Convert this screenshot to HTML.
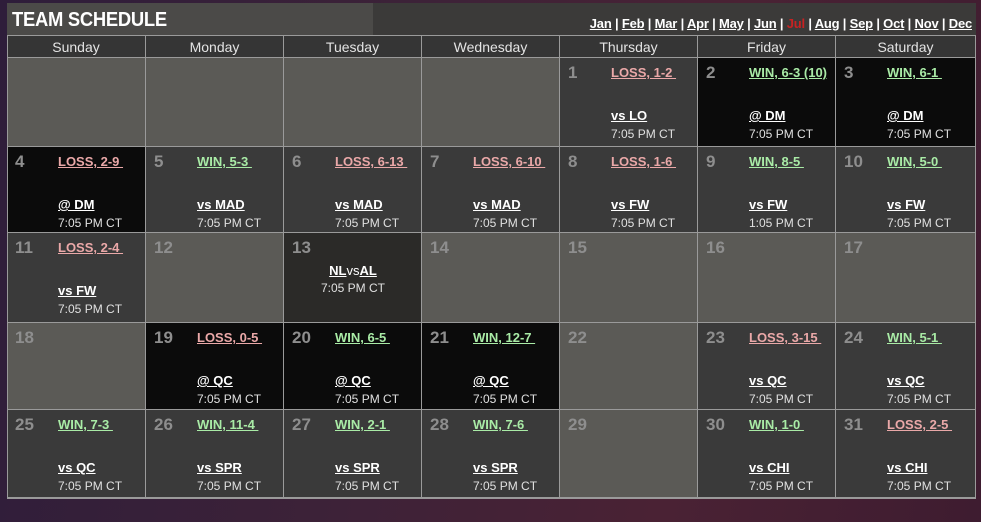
<!DOCTYPE html>
<html><head><meta charset="utf-8"><style>
*{margin:0;padding:0;box-sizing:border-box}
body{width:981px;height:522px;overflow:hidden;position:relative;font-family:"Liberation Sans",sans-serif;
background:linear-gradient(100deg,#2e1d3a 0%,#3d2238 40%,#4a2234 70%,#3e1c30 100%);}
.tb1{position:absolute;left:7px;top:3px;width:366px;height:33px;background:#4b4a48}
.tb2{position:absolute;left:373px;top:3px;width:603px;height:33px;background:#3b3a39}
.title{position:absolute;left:12px;top:9px;color:#fff;font-size:20px;font-weight:bold;letter-spacing:-0.3px;transform:scaleX(0.92);transform-origin:left}
.months{position:absolute;right:9px;top:16px;color:#fff;font-size:13px;font-weight:bold;letter-spacing:-0.2px}
.months u{text-decoration:underline}
.months .cur{color:#c62222;text-decoration:none}
.hdr{position:absolute;top:36px;height:22px;background:#353535;color:#e4e4e4;font-size:14px;text-align:center;line-height:22px;border-right:1px solid #9a9a9a;border-bottom:1px solid #9a9a9a}
.c{position:absolute;border-right:1px solid #9a9a9a;border-bottom:1px solid #9a9a9a}
.e{background:#5b5a56}.h{background:#3a3a3a}.a{background:#0b0b0b}.s{background:#2b2a28}
.n{position:absolute;left:8px;top:5px;font-size:17px;font-weight:bold;color:#8e8e8e}
.r{position:absolute;left:51px;top:7px;font-size:13px;font-weight:bold;text-decoration:underline;white-space:pre}
.L{color:#eaa8a8}.W{color:#a9eba6}
.o{position:absolute;left:51px;top:50px;font-size:13px;font-weight:bold;color:#fff;text-decoration:underline}
.t{position:absolute;left:51px;top:69px;font-size:12px;color:#e0e0e0}
.grid{position:absolute;left:7px;top:35px;width:969px;height:464px;border:1px solid #9a9a9a;pointer-events:none}
</style></head><body>
<div class="tb1"></div><div class="tb2"></div>
<div class="title">TEAM SCHEDULE</div>
<div class="months"><u>Jan</u> | <u>Feb</u> | <u>Mar</u> | <u>Apr</u> | <u>May</u> | <u>Jun</u> | <span class="cur">Jul</span> | <u>Aug</u> | <u>Sep</u> | <u>Oct</u> | <u>Nov</u> | <u>Dec</u></div>

<div class="hdr" style="left:7px;width:139px">Sunday</div>
<div class="hdr" style="left:146px;width:138px">Monday</div>
<div class="hdr" style="left:284px;width:138px">Tuesday</div>
<div class="hdr" style="left:422px;width:138px">Wednesday</div>
<div class="hdr" style="left:560px;width:138px">Thursday</div>
<div class="hdr" style="left:698px;width:138px">Friday</div>
<div class="hdr" style="left:836px;width:140px">Saturday</div>

<div class="c e" style="left:7px;top:58px;width:139px;height:89px"></div>
<div class="c e" style="left:146px;top:58px;width:138px;height:89px"></div>
<div class="c e" style="left:284px;top:58px;width:138px;height:89px"></div>
<div class="c e" style="left:422px;top:58px;width:138px;height:89px"></div>
<div class="c h" style="left:560px;top:58px;width:138px;height:89px"><div class="n">1</div><div class="r L">LOSS, 1-2 </div><div class="o">vs LO</div><div class="t">7:05 PM CT</div></div>
<div class="c a" style="left:698px;top:58px;width:138px;height:89px"><div class="n">2</div><div class="r W">WIN, 6-3 (10)</div><div class="o">@ DM</div><div class="t">7:05 PM CT</div></div>
<div class="c a" style="left:836px;top:58px;width:140px;height:89px"><div class="n">3</div><div class="r W">WIN, 6-1 </div><div class="o">@ DM</div><div class="t">7:05 PM CT</div></div>

<div class="c a" style="left:7px;top:147px;width:139px;height:86px"><div class="n">4</div><div class="r L">LOSS, 2-9 </div><div class="o">@ DM</div><div class="t">7:05 PM CT</div></div>
<div class="c h" style="left:146px;top:147px;width:138px;height:86px"><div class="n">5</div><div class="r W">WIN, 5-3 </div><div class="o">vs MAD</div><div class="t">7:05 PM CT</div></div>
<div class="c h" style="left:284px;top:147px;width:138px;height:86px"><div class="n">6</div><div class="r L">LOSS, 6-13 </div><div class="o">vs MAD</div><div class="t">7:05 PM CT</div></div>
<div class="c h" style="left:422px;top:147px;width:138px;height:86px"><div class="n">7</div><div class="r L">LOSS, 6-10 </div><div class="o">vs MAD</div><div class="t">7:05 PM CT</div></div>
<div class="c h" style="left:560px;top:147px;width:138px;height:86px"><div class="n">8</div><div class="r L">LOSS, 1-6 </div><div class="o">vs FW</div><div class="t">7:05 PM CT</div></div>
<div class="c h" style="left:698px;top:147px;width:138px;height:86px"><div class="n">9</div><div class="r W">WIN, 8-5 </div><div class="o">vs FW</div><div class="t">1:05 PM CT</div></div>
<div class="c h" style="left:836px;top:147px;width:140px;height:86px"><div class="n">10</div><div class="r W">WIN, 5-0 </div><div class="o">vs FW</div><div class="t">7:05 PM CT</div></div>

<div class="c h" style="left:7px;top:233px;width:139px;height:90px"><div class="n">11</div><div class="r L">LOSS, 2-4 </div><div class="o">vs FW</div><div class="t">7:05 PM CT</div></div>
<div class="c e" style="left:146px;top:233px;width:138px;height:90px"><div class="n">12</div></div>
<div class="c s" style="left:284px;top:233px;width:138px;height:90px"><div class="n">13</div><div style="position:absolute;left:0;width:138px;top:30px;text-align:center;font-size:13px;font-weight:bold;color:#fff"><u>NL</u><span style="font-weight:normal">vs</span><u>AL</u></div><div style="position:absolute;left:0;width:138px;top:48px;text-align:center;font-size:12px;color:#e0e0e0">7:05 PM CT</div></div>
<div class="c e" style="left:422px;top:233px;width:138px;height:90px"><div class="n">14</div></div>
<div class="c e" style="left:560px;top:233px;width:138px;height:90px"><div class="n">15</div></div>
<div class="c e" style="left:698px;top:233px;width:138px;height:90px"><div class="n">16</div></div>
<div class="c e" style="left:836px;top:233px;width:140px;height:90px"><div class="n">17</div></div>

<div class="c e" style="left:7px;top:323px;width:139px;height:87px"><div class="n">18</div></div>
<div class="c a" style="left:146px;top:323px;width:138px;height:87px"><div class="n">19</div><div class="r L">LOSS, 0-5 </div><div class="o">@ QC</div><div class="t">7:05 PM CT</div></div>
<div class="c a" style="left:284px;top:323px;width:138px;height:87px"><div class="n">20</div><div class="r W">WIN, 6-5 </div><div class="o">@ QC</div><div class="t">7:05 PM CT</div></div>
<div class="c a" style="left:422px;top:323px;width:138px;height:87px"><div class="n">21</div><div class="r W">WIN, 12-7 </div><div class="o">@ QC</div><div class="t">7:05 PM CT</div></div>
<div class="c e" style="left:560px;top:323px;width:138px;height:87px"><div class="n">22</div></div>
<div class="c h" style="left:698px;top:323px;width:138px;height:87px"><div class="n">23</div><div class="r L">LOSS, 3-15 </div><div class="o">vs QC</div><div class="t">7:05 PM CT</div></div>
<div class="c h" style="left:836px;top:323px;width:140px;height:87px"><div class="n">24</div><div class="r W">WIN, 5-1 </div><div class="o">vs QC</div><div class="t">7:05 PM CT</div></div>

<div class="c h" style="left:7px;top:410px;width:139px;height:88px"><div class="n">25</div><div class="r W">WIN, 7-3 </div><div class="o">vs QC</div><div class="t">7:05 PM CT</div></div>
<div class="c h" style="left:146px;top:410px;width:138px;height:88px"><div class="n">26</div><div class="r W">WIN, 11-4 </div><div class="o">vs SPR</div><div class="t">7:05 PM CT</div></div>
<div class="c h" style="left:284px;top:410px;width:138px;height:88px"><div class="n">27</div><div class="r W">WIN, 2-1 </div><div class="o">vs SPR</div><div class="t">7:05 PM CT</div></div>
<div class="c h" style="left:422px;top:410px;width:138px;height:88px"><div class="n">28</div><div class="r W">WIN, 7-6 </div><div class="o">vs SPR</div><div class="t">7:05 PM CT</div></div>
<div class="c e" style="left:560px;top:410px;width:138px;height:88px"><div class="n">29</div></div>
<div class="c h" style="left:698px;top:410px;width:138px;height:88px"><div class="n">30</div><div class="r W">WIN, 1-0 </div><div class="o">vs CHI</div><div class="t">7:05 PM CT</div></div>
<div class="c h" style="left:836px;top:410px;width:140px;height:88px"><div class="n">31</div><div class="r L">LOSS, 2-5 </div><div class="o">vs CHI</div><div class="t">7:05 PM CT</div></div>

<div class="grid"></div>
</body></html>
